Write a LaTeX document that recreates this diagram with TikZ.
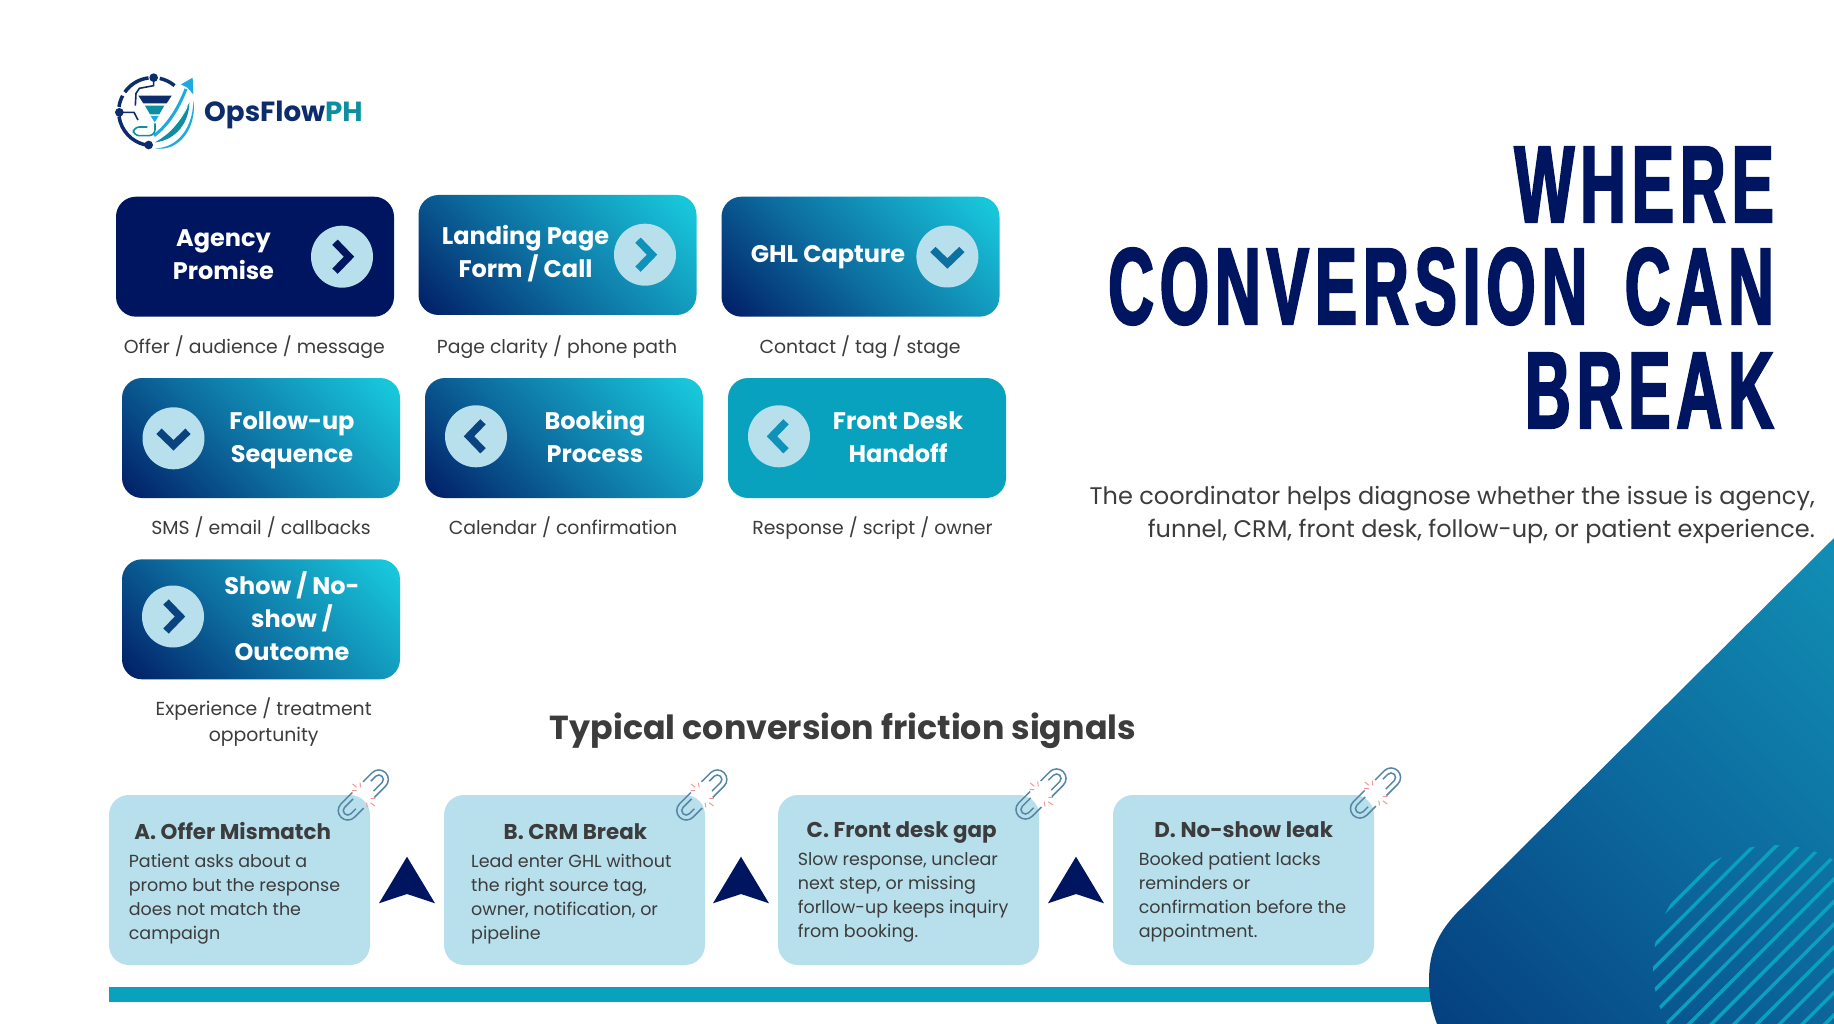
\documentclass[tikz,border=0pt]{standalone}
\usepackage{fontspec}
\setmainfont{Poppins}
\newfontfamily\titlefont[FakeStretch=0.58,LetterSpace=5.5,BoldFeatures={FakeBold=2}]{Liberation Sans}
\definecolor{node_navy}{RGB}{0,21,96}
\definecolor{node_cyan}{RGB}{24,198,218}
\definecolor{node_mid}{RGB}{13,110,160}
\definecolor{node_teal}{RGB}{8,162,191}
\definecolor{node_pale}{RGB}{184,223,236}
\definecolor{text_grey}{RGB}{60,60,60}
\definecolor{blob_dark}{RGB}{4,58,124}
\definecolor{blob_mid}{RGB}{12,105,158}
\definecolor{blob_light}{RGB}{18,148,182}
\definecolor{link_blue}{RGB}{85,135,165}
\definecolor{spark_red}{RGB}{245,150,150}
\definecolor{logo_navy}{RGB}{13,44,107}
\definecolor{logo_teal}{RGB}{14,143,160}
\definecolor{logo_sky}{RGB}{30,170,225}
\definecolor{chev_teal}{RGB}{15,145,185}
\definecolor{chev_blue}{RGB}{12,112,160}
\definecolor{chev_deep}{RGB}{10,68,128}
\pgfdeclareverticalshading{flowramp}{100bp}{color(0bp)=(node_navy); color(12bp)=(node_navy); color(45bp)=(node_mid); color(82bp)=(node_cyan); color(100bp)=(node_cyan)}
\pgfdeclareverticalshading{blobramp}{100bp}{color(0bp)=(blob_dark); color(10bp)=(blob_dark); color(50bp)=(blob_mid); color(90bp)=(blob_light); color(100bp)=(blob_light)}
\newcommand\chev[3]{\draw[line width=7.5pt,#3,shift={(#1)},rotate=#2] (-7,-14.5) -- (7,0) -- (-7,14.5);}
\newcommand\brokenlink[1]{
  \begin{scope}[shift={(#1)}]
    \foreach \ang in {45,225} {
      \draw[link_blue,line width=1.5pt,rotate=\ang] (9,-9.5) -- (22,-9.5) arc (-90:90:9.5) -- (6,9.5);
      \draw[link_blue,line width=1.5pt,rotate=\ang] (15,-4.5) -- (22,-4.5) arc (-90:90:4.5) -- (10,4.5);
    }
    \draw[spark_red,line width=1pt]
      (-10.7,-11) -- (-6.7,-7.7) (-3.3,-12.3) -- (-2.7,-7.7) (-11.3,-4.3) -- (-6.7,-4.3)
      (7.3,7.7) -- (11.7,11) (3.3,7.7) -- (4,12.3) (7.3,3.3) -- (12,3.3);
  \end{scope}}

\begin{document}
\begin{tikzpicture}[x=1pt,y=-1pt]
    \tikzstyle{flowbox}=[draw=none, rectangle, rounded corners=20pt, minimum width=278pt, minimum height=120pt, inner sep=0pt]
    \tikzstyle{flowgrad}=[style=flowbox, shading=flowramp, shading angle=-45]
    \tikzstyle{flowdisc}=[circle, fill=node_pale, minimum size=62pt, inner sep=0pt]
    \tikzstyle{flowtext}=[text=white, align=center, inner sep=0pt, font=\fontsize{24}{32.8}\selectfont\bfseries]
    \tikzstyle{flownote}=[text=text_grey, align=center, inner sep=0pt, font=\fontsize{18.85}{26}\selectfont]
    \tikzstyle{signalbox}=[fill=node_pale, rectangle, rounded corners=20pt, minimum width=261pt, minimum height=170pt, inner sep=0pt]
    \tikzstyle{signalhead}=[text=text_grey, inner sep=0pt, font=\fontsize{21.4}{26}\selectfont\bfseries]
    \tikzstyle{signaltext}=[text=text_grey, align=left, anchor=west, inner sep=0pt, font=\fontsize{17.5}{24}\selectfont]
    \tikzstyle{signalmark}=[fill=node_navy]
    \tikzstyle{titleline}=[anchor=base east, inner sep=0pt, text=node_navy, font=\titlefont\bfseries\fontsize{109}{109}\selectfont]

    \useasboundingbox (0,0) rectangle (1834,1024);
    \fill[white] (0,0) rectangle (1834,1024);

    % corner shape
    \coordinate (bar_a) at (109,987);
    \coordinate (bar_b) at (1440,1001.7);
    \fill[node_teal] (bar_a) rectangle (bar_b);
    \shade[shading=blobramp, shading angle=-45]
      (1834,538) -- (1456.7,913) .. controls (1436,935) and (1429,955) .. (1429,980) .. controls (1429,997) and (1432,1011) .. (1437,1024) -- (1834,1024) -- cycle;
    \begin{scope}
      \clip (1775,967) circle (122);
      \foreach \s in {0,...,14}
        \draw[node_teal,line width=3.4pt] ({2576.7+\s*22.7-1100},1100) -- ({2576.7+\s*22.7-700},700);
    \end{scope}

    % logo
    \begin{scope}[shift={(110,65)},scale=1/3]
      \draw[logo_navy,line width=3.5pt] (128,140) ++(-97:102) arc (-97:-145:102);
      \draw[logo_navy,line width=3.5pt] (128,140) ++(-152:102) arc (-152:-172:102);
      \draw[logo_navy,line width=3.5pt] (128,140) ++(-188:102) arc (-188:-258:102);
      \draw[logo_navy,line width=3.5pt] (128,140) ++(-78:102) arc (-78:-50:102);
      \fill[logo_navy] (131,38) circle (13) (28,142) circle (13) (116,240) circle (13);
      \draw[logo_navy,line width=1.6pt] (131,38) -- (131,62) -- (88,70) -- (78,85) -- (76,122) (28,142) -- (72,142) -- (84,165);
      \fill[logo_navy] (85,92) -- (185,92) -- (170,115) -- (100,115) -- cycle;
      \fill[logo_teal] (105,122) -- (163,122) -- (148,148) -- (120,148) -- cycle;
      \fill[logo_sky] (122,153) -- (146,153) -- (134,172) -- cycle;
      \draw[logo_teal,line width=1.6pt,rounded corners=6pt] (135,175) -- (135,212) -- (70,212) -- (70,186) -- (112,186);
      \fill[logo_teal] (135,232) .. controls (185,205) and (215,160) .. (238,112) .. controls (238,170) and (200,225) .. (135,232);
      \draw[white,line width=0.8pt] (165,210) .. controls (190,190) and (215,160) .. (232,125);
      \draw[logo_sky,line width=3pt] (132,212) .. controls (175,180) and (205,130) .. (228,72);
      \fill[logo_sky] (248,38) -- (250,88) -- (232,68) -- (213,58) -- cycle;
      \fill[logo_sky] (135,250) .. controls (200,250) and (250,190) .. (250,105) .. controls (262,190) and (205,262) .. (135,250);
    \end{scope}
    \node[inner sep=0pt, anchor=base west, font=\fontsize{27.7}{32}\selectfont\bfseries, text=logo_navy] (brand) at (204,121.5) {OpsFlow\textcolor{logo_teal}{PH}};

    % title
    \node[titleline] (title_a) at (1774,222) {WHERE};
    \node[titleline] (title_b) at (1774,324) {CONVERSION\hspace{14pt} CAN};
    \node[titleline] (title_c) at (1774,428) {BREAK};
    \node[align=right, anchor=east, inner sep=0pt, text=text_grey, font=\fontsize{24}{32.6}\selectfont] (intro) at (1815,515)
      {The coordinator helps diagnose whether the issue is agency,\\funnel, CRM, front desk, follow-up, or patient experience.};

    % flow boxes
    \node[flowbox,fill=node_navy] (agency)  at (255,256.7) {};
    \node[flowgrad]               (landing) at (557.5,255) {};
    \node[flowgrad]               (capture) at (860.5,256.7) {};
    \node[flowgrad]               (followup) at (261,438) {};
    \node[flowgrad]               (booking) at (564,438) {};
    \node[flowbox,fill=node_teal] (desk)    at (867,438) {};
    \node[flowgrad]               (outcome) at (261,619.3) {};

    \node[flowdisc] (agency_d)   at (342,256.7) {};
    \node[flowdisc] (landing_d)  at (645,254.7) {};
    \node[flowdisc] (capture_d)  at (947.4,256.5) {};
    \node[flowdisc] (followup_d) at (173.5,438.3) {};
    \node[flowdisc] (booking_d)  at (476,436.3) {};
    \node[flowdisc] (desk_d)     at (779,436.3) {};
    \node[flowdisc] (outcome_d)  at (173,616.5) {};

    \chev{agency_d}{0}{node_navy}
    \chev{landing_d}{0}{chev_teal}
    \chev{capture_d}{-90}{chev_blue}
    \chev{followup_d}{-90}{chev_deep}
    \chev{booking_d}{180}{chev_deep}
    \chev{desk_d}{180}{chev_teal}
    \chev{outcome_d}{0}{chev_deep}

    \node[flowtext] (agency_t)   at (223.4,254.6) {Agency\\Promise};
    \node[flowtext] (landing_t)  at (525.5,254) {Landing Page\\Form / Call};
    \node[flowtext] (capture_t)  at (828,257) {GHL Capture};
    \node[flowtext] (followup_t) at (292,440.5) {Follow-up\\Sequence};
    \node[flowtext] (booking_t)  at (595,436.5) {Booking\\Process};
    \node[flowtext] (desk_t)     at (898,437) {Front Desk\\Handoff};
    \node[flowtext] (outcome_t)  at (292,616) {Show / No-\\show /\\Outcome};

    \node[flownote] (agency_n)   at (254.4,347) {Offer / audience / message};
    \node[flownote] (landing_n)  at (557,347) {Page clarity / phone path};
    \node[flownote] (capture_n)  at (860,347) {Contact / tag / stage};
    \node[flownote] (followup_n) at (261,527.5) {SMS / email / callbacks};
    \node[flownote] (booking_n)  at (563,527.5) {Calendar / confirmation};
    \node[flownote] (desk_n)     at (872.5,528.5) {Response / script / owner};
    \node[flownote] (outcome_n)  at (263.7,722) {Experience / treatment\\opportunity};

    % friction signals
    \node[inner sep=0pt, text=text_grey, font=\fontsize{33.3}{36}\selectfont\bfseries] (signals) at (843,730.5) {Typical conversion friction signals};

    \node[signalbox] (sig_a) at (239.5,880) {};
    \node[signalbox] (sig_b) at (574.5,880) {};
    \node[signalbox] (sig_c) at (908.5,880) {};
    \node[signalbox] (sig_d) at (1243.5,880) {};

    \node[signalhead] (head_a) at (232.7,831) {A. Offer Mismatch};
    \node[signalhead] (head_b) at (575.4,831.5) {B. CRM Break};
    \node[signalhead] (head_c) at (901.7,832.2) {C. Front desk gap};
    \node[signalhead] (head_d) at (1243.7,829.7) {D. No-show leak};

    \node[signaltext] (text_a) at (128.6,899.3) {Patient asks about a\\promo but the response\\does not match the\\campaign};
    \node[signaltext] (text_b) at (471,899.3) {Lead enter GHL without\\the right source tag,\\owner, notification, or\\pipeline};
    \node[signaltext] (text_c) at (797.6,897.5) {Slow response, unclear\\next step, or missing\\forllow-up keeps inquiry\\from booking.};
    \node[signaltext] (text_d) at (1138.6,897.5) {Booked patient lacks\\reminders or\\confirmation before the\\appointment.};

    \foreach \mx in {407,741,1076}
      \fill[signalmark] (\mx,856.7) -- (\mx+28,903.3) -- (\mx,894) -- (\mx-28,903.3) -- cycle;

    \brokenlink{363.3,795}
    \brokenlink{701.8,795}
    \brokenlink{1041,794}
    \brokenlink{1375.5,793}
  \end{tikzpicture}
\end{document}
